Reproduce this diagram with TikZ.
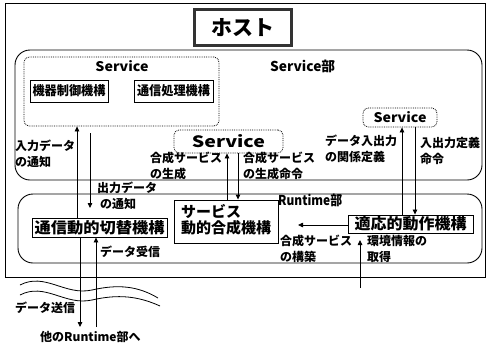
\documentclass[tikz,border=0pt]{standalone}
\usepackage{fontspec}
\setmainfont{Noto Sans CJK JP}
\usetikzlibrary{arrows.meta}
\begin{document}
\begin{tikzpicture}[x=1pt,y=-1pt,
  arr/.style={line width=0.8pt,-{Triangle[length=5pt,width=4.5pt]}},
  frame/.style={line width=0.9pt,rounded corners=15pt},
  dotbox/.style={draw,densely dotted,line width=0.8pt,rounded corners=5pt,inner sep=0pt},
  mbox/.style={draw,line width=0.9pt,inner sep=0pt,font=\bfseries},
  lbl/.style={inner sep=0pt,font=\bfseries\fontsize{12}{16}\selectfont,align=left},
  ttl/.style={inner sep=0pt,font=\bfseries}]
\useasboundingbox (0,0) rectangle (486,351);
% host frame
\draw[line width=1pt] (5,3) rectangle (485,277);
\node[draw=black!80,line width=3pt,minimum width=97pt,minimum height=36pt,inner sep=0pt,
  font=\bfseries\fontsize{21}{24}\selectfont] (host) at (243,27.5) {ホスト};
% Service part
\draw[frame] (15,50) rectangle (482,180);
\node[ttl,anchor=west] (svcpart) at (270,66) {\resizebox{65pt}{11.5pt}{Service部}};
\node[dotbox,minimum width=195pt,minimum height=69pt] (svcA) at (121.5,91.5) {};
\node[ttl] (svcAt) at (122,66) {\resizebox{53pt}{11pt}{Service}};
\node[mbox,minimum width=78pt,minimum height=22pt] (kiki) at (69,91) {\resizebox{73pt}{11pt}{機器制御機構}};
\node[mbox,minimum width=79pt,minimum height=22pt] (tsushin) at (173.5,91) {\resizebox{73pt}{11pt}{通信処理機構}};
\node[dotbox,minimum width=109pt,minimum height=23pt,font=\bfseries] (svcB) at (228.5,141.5) {\resizebox{73pt}{13pt}{Service}};
\node[dotbox,minimum width=74pt,minimum height=19pt,font=\bfseries] (svcC) at (400,117.5) {\resizebox{53pt}{11pt}{Service}};
% Runtime part
\draw[frame] (18,194) rectangle (482,263);
\node[ttl,anchor=west] (rtpart) at (278,200) {\resizebox{64pt}{11.5pt}{Runtime部}};
\node[mbox,minimum width=135pt,minimum height=19pt] (tsw) at (99.5,227.5) {\resizebox{130pt}{13pt}{通信動的切替機構}};
\node[mbox,minimum width=104pt,minimum height=43pt] (gosei) at (226,221.5) {\resizebox{90pt}{!}{\begin{tabular}{@{}l@{}}サービス\\[-2pt]動的合成機構\end{tabular}}};
\node[mbox,minimum width=125pt,minimum height=18pt] (tekio) at (410.5,224) {\resizebox{112pt}{13pt}{適応的動作機構}};
% free ends
\coordinate (outS) at (90,133);
\coordinate (outE) at (90,208);
\coordinate (bldE) at (298,225);
\coordinate (envS) at (360,288);
\coordinate (envE) at (360,240);
\coordinate (sendE) at (80,327);
\coordinate (recvS) at (96,327);
% arrows
\draw[arr] (77,0 |- tsw.north) -- (77,0 |- svcA.south);
\draw[arr] (outS) -- (outE);
\draw[arr] (227,0 |- gosei.north) -- (227,0 |- svcB.south);
\draw[arr] (238,0 |- svcB.south) -- (238,0 |- gosei.north);
\draw[arr] (402,0 |- tekio.north) -- (402,0 |- svcC.south);
\draw[arr] (415,0 |- svcC.south) -- (415,0 |- tekio.north);
\draw[arr] (tekio.west |- bldE) -- (bldE);
\draw[arr] (envS) -- (envE);
\draw[arr] (80,0 |- tsw.south) -- (sendE);
\draw[arr] (recvS) -- (96,0 |- tsw.south);
% waves
\draw[line width=0.8pt] (20,285) .. controls (45,272) and (65,296) .. (92,290) .. controls (118,284) and (138,286) .. (158,298);
\draw[line width=0.8pt] (20,295) .. controls (45,282) and (65,306) .. (92,300) .. controls (118,294) and (138,296) .. (160,306);
% labels
\node[lbl,anchor=north west] (l1) at (15,140) {入力データ\\の通知};
\node[lbl,anchor=north west] (l2) at (97,182) {出力データ\\\hspace*{3pt}の通知};
\node[lbl,anchor=north west] (l3) at (150,152) {合成サービス\\の生成};
\node[lbl,anchor=north west] (l4) at (243,152) {合成サービス\\の生成命令};
\node[lbl,anchor=north west] (l5) at (325,135) {データ入出力\\の関係定義};
\node[lbl,anchor=north west] (l6) at (420,137) {入出力定義\\命令};
\node[lbl,anchor=north west] (l7) at (280,235) {合成サービス\\の構築};
\node[lbl,anchor=north west] (l8) at (367,235) {環境情報の\\取得};
\node[lbl,anchor=west] (l9) at (100,252) {データ受信};
\node[lbl,anchor=west] (l10) at (15,308) {データ送信};
\node[lbl,anchor=west] (l11) at (40,337) {他のRuntime部へ};
\end{tikzpicture}
\end{document}
